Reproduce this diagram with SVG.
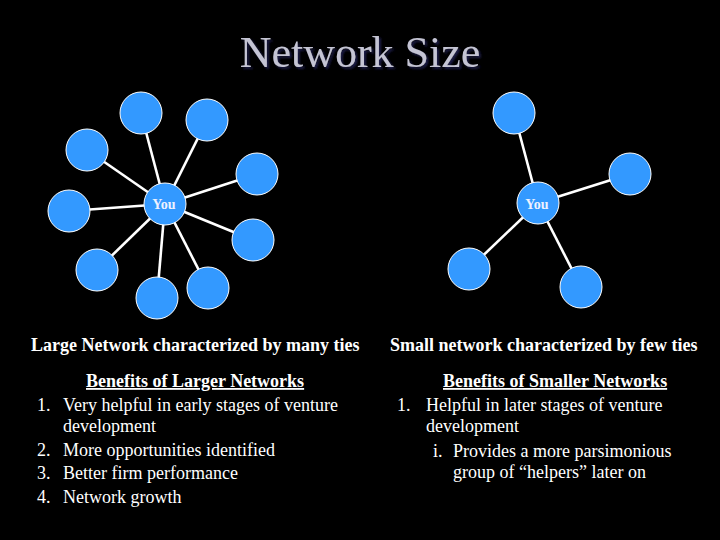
<svg xmlns="http://www.w3.org/2000/svg" width="720" height="540" viewBox="0 0 720 540">
<defs>
<filter id="shadow" x="-10%" y="-30%" width="120%" height="160%">
<feDropShadow dx="2" dy="2" stdDeviation="0.8" flood-color="#1a1a48" flood-opacity="1"/>
</filter>
</defs>
<style>
.node{fill:#3399ff;stroke:#ffffff;stroke-width:1}
.edge{stroke:#ffffff;stroke-width:2.6}
.you{font-family:"Liberation Serif","Times New Roman",serif;font-size:14px;font-weight:bold;fill:#eef2ff;text-anchor:middle}
.title{font-family:"Liberation Serif","Times New Roman",serif;font-size:44px;text-anchor:middle;fill:#c4c4d4}
.head{font-family:"Liberation Serif","Times New Roman",serif;font-size:18px;font-weight:bold;fill:#ffffff}
.body{font-family:"Liberation Serif","Times New Roman",serif;font-size:18px;fill:#ffffff}
</style>
<rect width="720" height="540" fill="#000000"/>
<g id="title">
<text class="title" x="360" y="67" filter="url(#shadow)">Network Size</text>
</g>
<g id="connectors">
<line class="edge" x1="165" y1="204" x2="141" y2="113"/>
<line class="edge" x1="165" y1="204" x2="207" y2="120"/>
<line class="edge" x1="165" y1="204" x2="87" y2="150"/>
<line class="edge" x1="165" y1="204" x2="257" y2="174"/>
<line class="edge" x1="165" y1="204" x2="69" y2="211"/>
<line class="edge" x1="165" y1="204" x2="253" y2="240"/>
<line class="edge" x1="165" y1="204" x2="97" y2="270"/>
<line class="edge" x1="165" y1="204" x2="157" y2="298"/>
<line class="edge" x1="165" y1="204" x2="208" y2="288"/>
<line class="edge" x1="538" y1="203" x2="514" y2="113"/>
<line class="edge" x1="538" y1="203" x2="630" y2="174"/>
<line class="edge" x1="538" y1="203" x2="469" y2="269"/>
<line class="edge" x1="538" y1="203" x2="581" y2="287"/>
</g>
<g id="large-network">
<g id="L-n1"><circle class="node" cx="141" cy="113" r="21"/></g>
<g id="L-n2"><circle class="node" cx="207" cy="120" r="21"/></g>
<g id="L-n3"><circle class="node" cx="87" cy="150" r="21"/></g>
<g id="L-n4"><circle class="node" cx="257" cy="174" r="21"/></g>
<g id="L-n5"><circle class="node" cx="69" cy="211" r="21"/></g>
<g id="L-n6"><circle class="node" cx="253" cy="240" r="21"/></g>
<g id="L-n7"><circle class="node" cx="97" cy="270" r="21"/></g>
<g id="L-n8"><circle class="node" cx="157" cy="298" r="21"/></g>
<g id="L-n9"><circle class="node" cx="208" cy="288" r="21"/></g>
<g id="L-you"><circle class="node" cx="165" cy="204" r="21"/><text class="you" x="164" y="209">You</text></g>
</g>
<g id="small-network">
<g id="S-n1"><circle class="node" cx="514" cy="113" r="21"/></g>
<g id="S-n2"><circle class="node" cx="630" cy="174" r="21"/></g>
<g id="S-n3"><circle class="node" cx="469" cy="269" r="21"/></g>
<g id="S-n4"><circle class="node" cx="581" cy="287" r="21"/></g>
<g id="S-you"><circle class="node" cx="538" cy="203" r="21"/><text class="you" x="537" y="209">You</text></g>
</g>
<g id="left-text">
<text class="head" x="31" y="351">Large Network characterized by many ties</text>
<text class="head" x="86" y="387" text-decoration="underline">Benefits of Larger Networks</text>
<text class="body" x="37" y="411">1.</text>
<text class="body" x="63" y="411">Very helpful in early stages of venture</text>
<text class="body" x="63" y="432">development</text>
<text class="body" x="37" y="456">2.</text>
<text class="body" x="63" y="456">More opportunities identified</text>
<text class="body" x="37" y="479">3.</text>
<text class="body" x="63" y="479">Better firm performance</text>
<text class="body" x="37" y="503">4.</text>
<text class="body" x="63" y="503">Network growth</text>
</g>
<g id="right-text">
<text class="head" x="390" y="351">Small network characterized by few ties</text>
<text class="head" x="443" y="387" text-decoration="underline">Benefits of Smaller Networks</text>
<text class="body" x="397" y="411">1.</text>
<text class="body" x="426" y="411">Helpful in later stages of venture</text>
<text class="body" x="426" y="432">development</text>
<text class="body" x="433" y="457">i.</text>
<text class="body" x="453" y="457">Provides a more parsimonious</text>
<text class="body" x="453" y="478">group of “helpers” later on</text>
</g>
</svg>
